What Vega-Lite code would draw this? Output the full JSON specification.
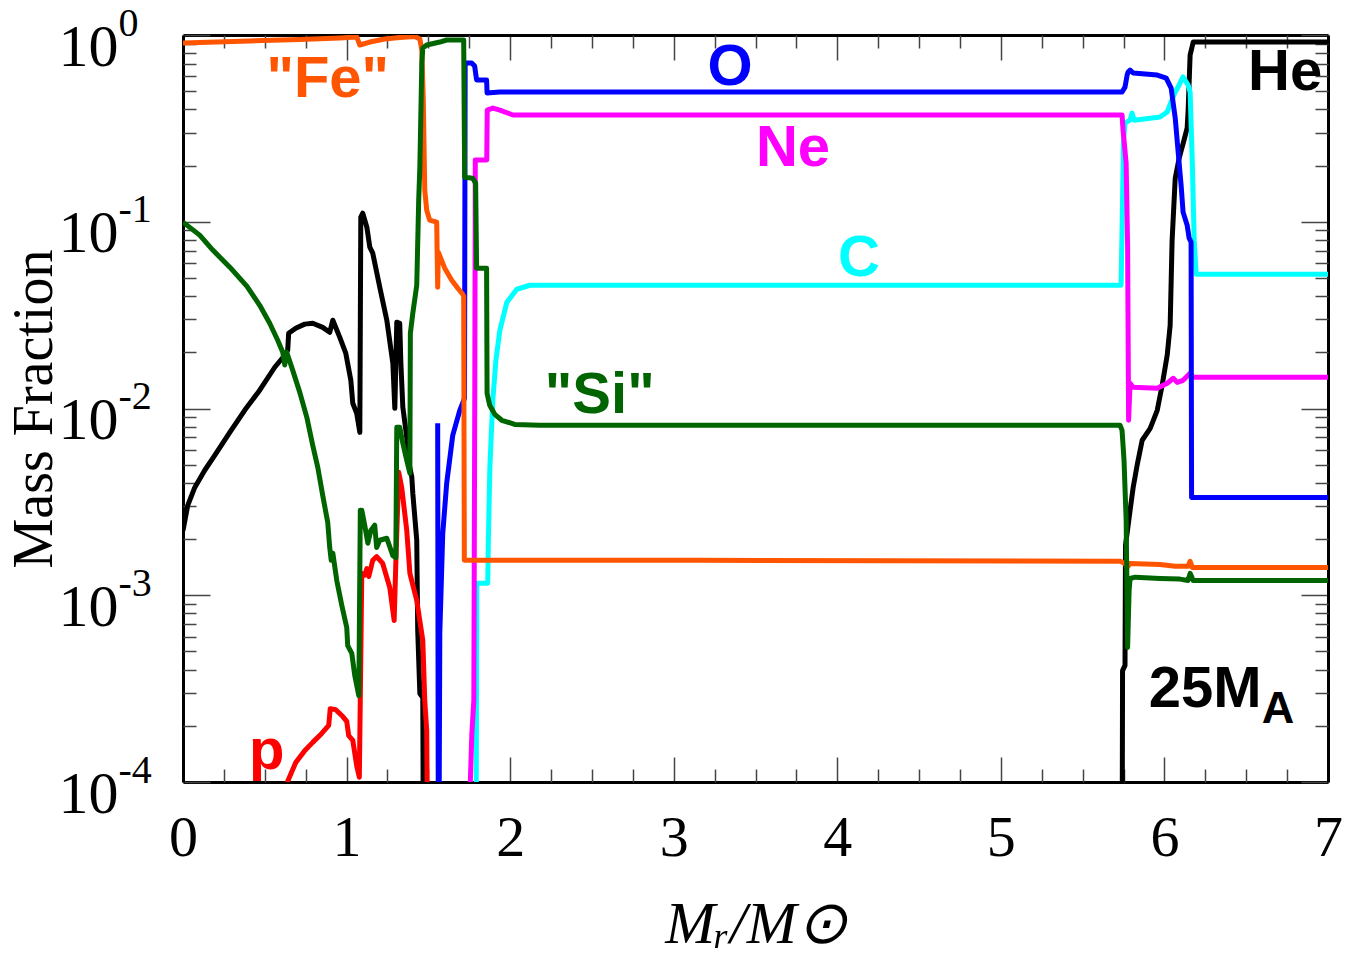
{
  "$schema": "https://vega.github.io/schema/vega-lite/v6.json",
  "width": 1145,
  "height": 747,
  "autosize": {"type": "none"},
  "padding": {"left": 183, "top": 35, "right": 20, "bottom": 183},
  "background": "white",
  "config": {
    "view": {"stroke": null},
    "axis": {
      "grid": false,
      "domain": false,
      "tickColor": "#444444",
      "tickWidth": 1.5,
      "labelFont": "Liberation Serif",
      "titleFont": "Liberation Serif",
      "labelColor": "black",
      "titleColor": "black",
      "titleFontWeight": "normal",
      "labelOverlap": false,
      "labelFlush": false
    }
  },
  "datasets": {
    "profiles": [
      {"s": "He", "m": 0, "f": 0.00222}, {"s": "He", "m": 0.029, "f": 0.00303}, {"s": "He", "m": 0.072, "f": 0.00378},
      {"s": "He", "m": 0.133, "f": 0.00467}, {"s": "He", "m": 0.194, "f": 0.00561}, {"s": "He", "m": 0.286, "f": 0.00745},
      {"s": "He", "m": 0.377, "f": 0.00978}, {"s": "He", "m": 0.469, "f": 0.01253}, {"s": "He", "m": 0.561, "f": 0.01663},
      {"s": "He", "m": 0.622, "f": 0.01928}, {"s": "He", "m": 0.64, "f": 0.0205}, {"s": "He", "m": 0.646, "f": 0.0253},
      {"s": "He", "m": 0.689, "f": 0.0269}, {"s": "He", "m": 0.744, "f": 0.0283}, {"s": "He", "m": 0.793, "f": 0.0286},
      {"s": "He", "m": 0.854, "f": 0.0272}, {"s": "He", "m": 0.897, "f": 0.0256}, {"s": "He", "m": 0.916, "f": 0.0297},
      {"s": "He", "m": 0.958, "f": 0.0241}, {"s": "He", "m": 0.995, "f": 0.0198}, {"s": "He", "m": 1.026, "f": 0.01416},
      {"s": "He", "m": 1.038, "f": 0.01067}, {"s": "He", "m": 1.062, "f": 0.00942}, {"s": "He", "m": 1.081, "f": 0.00745},
      {"s": "He", "m": 1.087, "f": 0.1059}, {"s": "He", "m": 1.099, "f": 0.1112}, {"s": "He", "m": 1.124, "f": 0.0935},
      {"s": "He", "m": 1.142, "f": 0.0731}, {"s": "He", "m": 1.16, "f": 0.0679}, {"s": "He", "m": 1.203, "f": 0.0446},
      {"s": "He", "m": 1.246, "f": 0.0297}, {"s": "He", "m": 1.283, "f": 0.01746}, {"s": "He", "m": 1.295, "f": 0.01002},
      {"s": "He", "m": 1.307, "f": 0.029}, {"s": "He", "m": 1.325, "f": 0.0286}, {"s": "He", "m": 1.332, "f": 0.01746},
      {"s": "He", "m": 1.344, "f": 0.01015}, {"s": "He", "m": 1.368, "f": 0.00701}, {"s": "He", "m": 1.374, "f": 0.00548},
      {"s": "He", "m": 1.399, "f": 0.00428}, {"s": "He", "m": 1.405, "f": 0.00351}, {"s": "He", "m": 1.429, "f": 0.00197},
      {"s": "He", "m": 1.435, "f": 0.000648}, {"s": "He", "m": 1.448, "f": 0.000298}, {"s": "He", "m": 1.466, "f": 0.000283},
      {"s": "He", "m": 1.472, "f": 0.00001}, {"s": "He", "m": 5.74, "f": 0.00001}, {"s": "He", "m": 5.744, "f": 0.000395},
      {"s": "He", "m": 5.759, "f": 0.000421}, {"s": "He", "m": 5.762, "f": 0.00185}, {"s": "He", "m": 5.79, "f": 0.00285},
      {"s": "He", "m": 5.809, "f": 0.00378}, {"s": "He", "m": 5.833, "f": 0.00496}, {"s": "He", "m": 5.864, "f": 0.00676},
      {"s": "He", "m": 5.913, "f": 0.00783}, {"s": "He", "m": 5.956, "f": 0.00978}, {"s": "He", "m": 5.986, "f": 0.0133},
      {"s": "He", "m": 6.017, "f": 0.0193}, {"s": "He", "m": 6.035, "f": 0.0279}, {"s": "He", "m": 6.047, "f": 0.0797},
      {"s": "He", "m": 6.066, "f": 0.171}, {"s": "He", "m": 6.09, "f": 0.219}, {"s": "He", "m": 6.12, "f": 0.274},
      {"s": "He", "m": 6.139, "f": 0.318}, {"s": "He", "m": 6.145, "f": 0.396}, {"s": "He", "m": 6.157, "f": 0.781},
      {"s": "He", "m": 6.176, "f": 0.917}, {"s": "He", "m": 7, "f": 0.917},

      {"s": "p", "m": 0.531, "f": 0.00003}, {"s": "p", "m": 0.634, "f": 0.000098}, {"s": "p", "m": 0.689, "f": 0.000127},
      {"s": "p", "m": 0.744, "f": 0.000147}, {"s": "p", "m": 0.793, "f": 0.000163}, {"s": "p", "m": 0.848, "f": 0.000182},
      {"s": "p", "m": 0.891, "f": 0.000201}, {"s": "p", "m": 0.9, "f": 0.000247}, {"s": "p", "m": 0.934, "f": 0.000244},
      {"s": "p", "m": 0.977, "f": 0.000224}, {"s": "p", "m": 1.001, "f": 0.000211}, {"s": "p", "m": 1.013, "f": 0.000177},
      {"s": "p", "m": 1.038, "f": 0.000167}, {"s": "p", "m": 1.062, "f": 0.000122}, {"s": "p", "m": 1.078, "f": 0.000106},
      {"s": "p", "m": 1.084, "f": 0.000283}, {"s": "p", "m": 1.093, "f": 0.00131}, {"s": "p", "m": 1.111, "f": 0.00128},
      {"s": "p", "m": 1.124, "f": 0.00139}, {"s": "p", "m": 1.136, "f": 0.00126}, {"s": "p", "m": 1.16, "f": 0.00154},
      {"s": "p", "m": 1.184, "f": 0.00161}, {"s": "p", "m": 1.221, "f": 0.00148}, {"s": "p", "m": 1.264, "f": 0.0011},
      {"s": "p", "m": 1.291, "f": 0.000733}, {"s": "p", "m": 1.301, "f": 0.00148}, {"s": "p", "m": 1.319, "f": 0.00455},
      {"s": "p", "m": 1.337, "f": 0.00378}, {"s": "p", "m": 1.368, "f": 0.00222}, {"s": "p", "m": 1.387, "f": 0.00131},
      {"s": "p", "m": 1.429, "f": 0.000938}, {"s": "p", "m": 1.466, "f": 0.000573}, {"s": "p", "m": 1.478, "f": 0.000273},
      {"s": "p", "m": 1.49, "f": 0.000189}, {"s": "p", "m": 1.5, "f": 0.00001},

      {"s": "C", "m": 1.79, "f": 0.00001}, {"s": "C", "m": 1.796, "f": 0.00116}, {"s": "C", "m": 1.863, "f": 0.00116},
      {"s": "C", "m": 1.867, "f": 0.00197}, {"s": "C", "m": 1.876, "f": 0.00484}, {"s": "C", "m": 1.894, "f": 0.01107},
      {"s": "C", "m": 1.913, "f": 0.01813}, {"s": "C", "m": 1.937, "f": 0.0262}, {"s": "C", "m": 1.98, "f": 0.0371},
      {"s": "C", "m": 2.041, "f": 0.0435}, {"s": "C", "m": 2.121, "f": 0.0457}, {"s": "C", "m": 5.735, "f": 0.0457},
      {"s": "C", "m": 5.744, "f": 0.1305}, {"s": "C", "m": 5.75, "f": 0.274}, {"s": "C", "m": 5.759, "f": 0.338},
      {"s": "C", "m": 5.79, "f": 0.35}, {"s": "C", "m": 5.802, "f": 0.382}, {"s": "C", "m": 5.815, "f": 0.35},
      {"s": "C", "m": 5.973, "f": 0.364}, {"s": "C", "m": 6.017, "f": 0.387}, {"s": "C", "m": 6.041, "f": 0.438},
      {"s": "C", "m": 6.066, "f": 0.495}, {"s": "C", "m": 6.09, "f": 0.54}, {"s": "C", "m": 6.114, "f": 0.596},
      {"s": "C", "m": 6.145, "f": 0.54}, {"s": "C", "m": 6.157, "f": 0.495}, {"s": "C", "m": 6.17, "f": 0.214},
      {"s": "C", "m": 6.182, "f": 0.0797}, {"s": "C", "m": 6.194, "f": 0.0524}, {"s": "C", "m": 7, "f": 0.0524},

      {"s": "Ne", "m": 1.747, "f": 0.00001}, {"s": "Ne", "m": 1.757, "f": 0.000102}, {"s": "Ne", "m": 1.766, "f": 0.000182},
      {"s": "Ne", "m": 1.778, "f": 0.000273}, {"s": "Ne", "m": 1.784, "f": 0.01365}, {"s": "Ne", "m": 1.787, "f": 0.214},
      {"s": "Ne", "m": 1.857, "f": 0.214}, {"s": "Ne", "m": 1.86, "f": 0.396}, {"s": "Ne", "m": 1.894, "f": 0.406},
      {"s": "Ne", "m": 1.937, "f": 0.396}, {"s": "Ne", "m": 2.017, "f": 0.373}, {"s": "Ne", "m": 2.121, "f": 0.373},
      {"s": "Ne", "m": 5.741, "f": 0.373}, {"s": "Ne", "m": 5.747, "f": 0.31}, {"s": "Ne", "m": 5.766, "f": 0.206},
      {"s": "Ne", "m": 5.775, "f": 0.0731}, {"s": "Ne", "m": 5.781, "f": 0.00865}, {"s": "Ne", "m": 5.79, "f": 0.01365},
      {"s": "Ne", "m": 5.809, "f": 0.013}, {"s": "Ne", "m": 5.956, "f": 0.01283}, {"s": "Ne", "m": 6.017, "f": 0.01365},
      {"s": "Ne", "m": 6.054, "f": 0.01452}, {"s": "Ne", "m": 6.078, "f": 0.0138}, {"s": "Ne", "m": 6.114, "f": 0.01416},
      {"s": "Ne", "m": 6.157, "f": 0.01544}, {"s": "Ne", "m": 6.176, "f": 0.01469}, {"s": "Ne", "m": 7, "f": 0.01469},

      {"s": "O", "m": 1.557, "f": 0.00833}, {"s": "O", "m": 1.562, "f": 0.00001}, {"s": "O", "m": 1.57, "f": 0.000624},
      {"s": "O", "m": 1.588, "f": 0.00214}, {"s": "O", "m": 1.612, "f": 0.00397}, {"s": "O", "m": 1.649, "f": 0.00718},
      {"s": "O", "m": 1.692, "f": 0.00978}, {"s": "O", "m": 1.721, "f": 0.01134}, {"s": "O", "m": 1.725, "f": 0.708},
      {"s": "O", "m": 1.765, "f": 0.708}, {"s": "O", "m": 1.783, "f": 0.682}, {"s": "O", "m": 1.795, "f": 0.574},
      {"s": "O", "m": 1.856, "f": 0.574}, {"s": "O", "m": 1.859, "f": 0.489}, {"s": "O", "m": 1.936, "f": 0.495},
      {"s": "O", "m": 5.741, "f": 0.495}, {"s": "O", "m": 5.759, "f": 0.526}, {"s": "O", "m": 5.772, "f": 0.61},
      {"s": "O", "m": 5.778, "f": 0.634}, {"s": "O", "m": 5.79, "f": 0.649}, {"s": "O", "m": 5.809, "f": 0.626},
      {"s": "O", "m": 5.956, "f": 0.61}, {"s": "O", "m": 6.011, "f": 0.588}, {"s": "O", "m": 6.041, "f": 0.52},
      {"s": "O", "m": 6.066, "f": 0.359}, {"s": "O", "m": 6.084, "f": 0.236}, {"s": "O", "m": 6.102, "f": 0.157},
      {"s": "O", "m": 6.114, "f": 0.1126}, {"s": "O", "m": 6.139, "f": 0.0959}, {"s": "O", "m": 6.151, "f": 0.0817},
      {"s": "O", "m": 6.163, "f": 0.0778}, {"s": "O", "m": 6.166, "f": 0.00334}, {"s": "O", "m": 7, "f": 0.00334},

      {"s": "Fe", "m": 0, "f": 0.906}, {"s": "Fe", "m": 0.408, "f": 0.929}, {"s": "Fe", "m": 0.714, "f": 0.946},
      {"s": "Fe", "m": 0.958, "f": 0.964}, {"s": "Fe", "m": 1.062, "f": 0.976}, {"s": "Fe", "m": 1.081, "f": 0.884},
      {"s": "Fe", "m": 1.142, "f": 0.917}, {"s": "Fe", "m": 1.233, "f": 0.952}, {"s": "Fe", "m": 1.325, "f": 0.97},
      {"s": "Fe", "m": 1.417, "f": 0.982}, {"s": "Fe", "m": 1.448, "f": 0.952}, {"s": "Fe", "m": 1.46, "f": 0.831},
      {"s": "Fe", "m": 1.469, "f": 0.449}, {"s": "Fe", "m": 1.478, "f": 0.148}, {"s": "Fe", "m": 1.49, "f": 0.1153},
      {"s": "Fe", "m": 1.508, "f": 0.102}, {"s": "Fe", "m": 1.551, "f": 0.0995}, {"s": "Fe", "m": 1.557, "f": 0.0446},
      {"s": "Fe", "m": 1.561, "f": 0.0687}, {"s": "Fe", "m": 1.6, "f": 0.0564}, {"s": "Fe", "m": 1.643, "f": 0.0486},
      {"s": "Fe", "m": 1.68, "f": 0.0441}, {"s": "Fe", "m": 1.71, "f": 0.0409}, {"s": "Fe", "m": 1.716, "f": 0.0399},
      {"s": "Fe", "m": 1.72, "f": 0.00154}, {"s": "Fe", "m": 3.16, "f": 0.00154}, {"s": "Fe", "m": 5.729, "f": 0.00152},
      {"s": "Fe", "m": 5.759, "f": 0.00148}, {"s": "Fe", "m": 5.772, "f": 0.00141}, {"s": "Fe", "m": 5.79, "f": 0.00148},
      {"s": "Fe", "m": 5.973, "f": 0.00146}, {"s": "Fe", "m": 6.066, "f": 0.00143}, {"s": "Fe", "m": 6.145, "f": 0.00143},
      {"s": "Fe", "m": 6.157, "f": 0.00152}, {"s": "Fe", "m": 6.17, "f": 0.00141}, {"s": "Fe", "m": 7, "f": 0.00141},

      {"s": "Si", "m": 0, "f": 0.0995}, {"s": "Si", "m": 0.102, "f": 0.0848}, {"s": "Si", "m": 0.182, "f": 0.0705},
      {"s": "Si", "m": 0.286, "f": 0.0571}, {"s": "Si", "m": 0.39, "f": 0.0452}, {"s": "Si", "m": 0.469, "f": 0.0357},
      {"s": "Si", "m": 0.53, "f": 0.0286}, {"s": "Si", "m": 0.579, "f": 0.0232}, {"s": "Si", "m": 0.61, "f": 0.02},
      {"s": "Si", "m": 0.622, "f": 0.0171}, {"s": "Si", "m": 0.634, "f": 0.02}, {"s": "Si", "m": 0.671, "f": 0.016},
      {"s": "Si", "m": 0.714, "f": 0.0122}, {"s": "Si", "m": 0.757, "f": 0.00897}, {"s": "Si", "m": 0.793, "f": 0.00635},
      {"s": "Si", "m": 0.824, "f": 0.00484}, {"s": "Si", "m": 0.854, "f": 0.00343}, {"s": "Si", "m": 0.885, "f": 0.00245},
      {"s": "Si", "m": 0.897, "f": 0.0018}, {"s": "Si", "m": 0.906, "f": 0.00154}, {"s": "Si", "m": 0.916, "f": 0.00168},
      {"s": "Si", "m": 0.94, "f": 0.0012}, {"s": "Si", "m": 0.971, "f": 0.000881}, {"s": "Si", "m": 1.001, "f": 0.000672},
      {"s": "Si", "m": 1.007, "f": 0.000538}, {"s": "Si", "m": 1.032, "f": 0.000488}, {"s": "Si", "m": 1.05, "f": 0.000372},
      {"s": "Si", "m": 1.075, "f": 0.00029}, {"s": "Si", "m": 1.084, "f": 0.00285}, {"s": "Si", "m": 1.093, "f": 0.00285},
      {"s": "Si", "m": 1.111, "f": 0.00237}, {"s": "Si", "m": 1.13, "f": 0.0019}, {"s": "Si", "m": 1.148, "f": 0.00222},
      {"s": "Si", "m": 1.172, "f": 0.00237}, {"s": "Si", "m": 1.184, "f": 0.0018}, {"s": "Si", "m": 1.203, "f": 0.00197},
      {"s": "Si", "m": 1.246, "f": 0.00202}, {"s": "Si", "m": 1.283, "f": 0.00163}, {"s": "Si", "m": 1.301, "f": 0.00159},
      {"s": "Si", "m": 1.307, "f": 0.00793}, {"s": "Si", "m": 1.325, "f": 0.00793}, {"s": "Si", "m": 1.344, "f": 0.00651},
      {"s": "Si", "m": 1.368, "f": 0.00527}, {"s": "Si", "m": 1.387, "f": 0.0045}, {"s": "Si", "m": 1.39, "f": 0.0253},
      {"s": "Si", "m": 1.405, "f": 0.0324}, {"s": "Si", "m": 1.429, "f": 0.0457}, {"s": "Si", "m": 1.441, "f": 0.1305},
      {"s": "Si", "m": 1.448, "f": 0.196}, {"s": "Si", "m": 1.46, "f": 0.708}, {"s": "Si", "m": 1.466, "f": 0.852},
      {"s": "Si", "m": 1.49, "f": 0.884}, {"s": "Si", "m": 1.57, "f": 0.917}, {"s": "Si", "m": 1.612, "f": 0.94},
      {"s": "Si", "m": 1.716, "f": 0.94}, {"s": "Si", "m": 1.722, "f": 0.173}, {"s": "Si", "m": 1.771, "f": 0.171},
      {"s": "Si", "m": 1.789, "f": 0.161}, {"s": "Si", "m": 1.795, "f": 0.0564}, {"s": "Si", "m": 1.856, "f": 0.0564},
      {"s": "Si", "m": 1.859, "f": 0.01206}, {"s": "Si", "m": 1.875, "f": 0.0104}, {"s": "Si", "m": 1.906, "f": 0.00931},
      {"s": "Si", "m": 1.949, "f": 0.00865}, {"s": "Si", "m": 2.028, "f": 0.00822}, {"s": "Si", "m": 2.181, "f": 0.00813},
      {"s": "Si", "m": 5.729, "f": 0.00813}, {"s": "Si", "m": 5.741, "f": 0.00764}, {"s": "Si", "m": 5.753, "f": 0.00527},
      {"s": "Si", "m": 5.766, "f": 0.00252}, {"s": "Si", "m": 5.775, "f": 0.000525}, {"s": "Si", "m": 5.784, "f": 0.00106},
      {"s": "Si", "m": 5.79, "f": 0.00123}, {"s": "Si", "m": 5.821, "f": 0.00125}, {"s": "Si", "m": 5.973, "f": 0.00123},
      {"s": "Si", "m": 6.095, "f": 0.00122}, {"s": "Si", "m": 6.144, "f": 0.0012}, {"s": "Si", "m": 6.157, "f": 0.00131},
      {"s": "Si", "m": 6.176, "f": 0.0012}, {"s": "Si", "m": 7, "f": 0.0012}
    ],
    "labels": [
      {"s": "Fe", "t": "\"Fe\"", "m": 0.885, "f": 0.465},
      {"s": "O", "t": "O", "m": 3.345, "f": 0.54},
      {"s": "Ne", "t": "Ne", "m": 3.729, "f": 0.1986},
      {"s": "C", "t": "C", "m": 4.133, "f": 0.0511},
      {"s": "Si", "t": "\"Si\"", "m": 2.548, "f": 0.00942},
      {"s": "He", "t": "He", "m": 6.738, "f": 0.507},
      {"s": "p", "t": "p", "m": 0.512, "f": 0.000118}
    ],
    "model": [{"t": "25M", "m": 6.249, "f": 0.000251}],
    "modelSub": [{"t": "A", "m": 6.695, "f": 0.000208}]
  },
  "resolve": {"axis": {"x": "independent", "y": "independent"}},
  "layer": [
    {
      "data": {"name": "profiles"},
      "transform": [{"filter": "datum.s != 'Si'"}],
      "mark": {"type": "line", "clip": true, "strokeWidth": 5, "strokeJoin": "round"},
      "encoding": {
        "x": {
          "field": "m", "type": "quantitative",
          "scale": {"domain": [0, 7], "nice": false, "zero": false},
          "axis": {
            "orient": "bottom", "values": [0, 1, 2, 3, 4, 5, 6, 7], "format": "d",
            "tickSize": -25, "labelPadding": 52, "labelFontSize": 58,
            "domain": true, "domainColor": "black", "domainWidth": 3,
            "title": "Mᵣ/M⊙", "titleFontSize": 60, "titleFontStyle": "italic", "titlePadding": 28
          }
        },
        "y": {
          "field": "f", "type": "quantitative",
          "scale": {"type": "log", "domain": [0.0001, 1], "nice": false},
          "axis": {
            "orient": "left", "values": [0.0001, 0.001, 0.01, 0.1, 1], "labelExpr": "'10'",
            "tickSize": -27, "labelPadding": 92, "labelFontSize": 60,
            "labelBaseline": "middle", "labelOffset": 12,
            "domain": true, "domainColor": "black", "domainWidth": 3,
            "title": "Mass Fraction", "titleFontSize": 56, "titlePadding": -5
          }
        },
        "color": {
          "field": "s", "type": "nominal",
          "scale": {
            "domain": ["He", "p", "C", "Ne", "O", "Fe", "Si"],
            "range": ["#000000", "#ff0000", "#00ffff", "#ff00ff", "#0000ff", "#ff5500", "#006400"]
          },
          "legend": null
        },
        "order": {"value": null}
      }
    },
    {
      "data": {"name": "profiles"},
      "transform": [{"filter": "datum.s == 'Si'"}],
      "mark": {"type": "line", "clip": true, "strokeWidth": 5, "strokeJoin": "round"},
      "encoding": {
        "x": {
          "field": "m", "type": "quantitative",
          "axis": {
            "orient": "bottom",
            "values": [0.25, 0.5, 0.75, 1.25, 1.5, 1.75, 2.25, 2.5, 2.75, 3.25, 3.5, 3.75, 4.25, 4.5, 4.75, 5.25, 5.5, 5.75, 6.25, 6.5, 6.75],
            "tickSize": -13, "labels": false, "domain": false, "title": null
          }
        },
        "y": {
          "field": "f", "type": "quantitative",
          "axis": {
            "orient": "left",
            "values": [0.0002, 0.0003, 0.0004, 0.0005, 0.0006, 0.0007, 0.0008, 0.0009, 0.002, 0.003, 0.004, 0.005, 0.006, 0.007, 0.008, 0.009, 0.02, 0.03, 0.04, 0.05, 0.06, 0.07, 0.08, 0.09, 0.2, 0.3, 0.4, 0.5, 0.6, 0.7, 0.8, 0.9],
            "tickSize": -13, "labels": false, "domain": false, "title": null
          }
        },
        "color": {"field": "s", "type": "nominal", "legend": null},
        "order": {"value": null}
      }
    },
    {
      "data": {"name": "labels"},
      "mark": {"type": "text", "font": "Liberation Sans", "fontWeight": "bold", "fontSize": 58, "align": "center", "baseline": "alphabetic"},
      "encoding": {
        "x": {
          "field": "m", "type": "quantitative",
          "axis": {
            "orient": "top", "values": [0, 1, 2, 3, 4, 5, 6, 7],
            "tickSize": -25, "labels": false,
            "domain": true, "domainColor": "black", "domainWidth": 3, "title": null
          }
        },
        "y": {
          "field": "f", "type": "quantitative",
          "axis": {
            "orient": "right", "values": [0.0001, 0.001, 0.01, 0.1, 1],
            "tickSize": -27, "labels": false,
            "domain": true, "domainColor": "black", "domainWidth": 3, "title": null
          }
        },
        "text": {"field": "t"},
        "color": {"field": "s", "type": "nominal", "legend": null}
      }
    },
    {
      "data": {"name": "model"},
      "mark": {"type": "text", "font": "Liberation Sans", "fontWeight": "bold", "fontSize": 58, "align": "center", "baseline": "alphabetic", "color": "black"},
      "encoding": {
        "x": {
          "field": "m", "type": "quantitative",
          "axis": {
            "orient": "top",
            "values": [0.25, 0.5, 0.75, 1.25, 1.5, 1.75, 2.25, 2.5, 2.75, 3.25, 3.5, 3.75, 4.25, 4.5, 4.75, 5.25, 5.5, 5.75, 6.25, 6.5, 6.75],
            "tickSize": -13, "labels": false, "domain": false, "title": null
          }
        },
        "y": {
          "field": "f", "type": "quantitative",
          "axis": {
            "orient": "right",
            "values": [0.0002, 0.0003, 0.0004, 0.0005, 0.0006, 0.0007, 0.0008, 0.0009, 0.002, 0.003, 0.004, 0.005, 0.006, 0.007, 0.008, 0.009, 0.02, 0.03, 0.04, 0.05, 0.06, 0.07, 0.08, 0.09, 0.2, 0.3, 0.4, 0.5, 0.6, 0.7, 0.8, 0.9],
            "tickSize": -13, "labels": false, "domain": false, "title": null
          }
        },
        "text": {"field": "t"}
      }
    },
    {
      "data": {"name": "modelSub"},
      "mark": {"type": "text", "font": "Liberation Sans", "fontWeight": "bold", "fontSize": 45, "align": "center", "baseline": "alphabetic", "color": "black"},
      "encoding": {
        "x": {"field": "m", "type": "quantitative", "axis": null},
        "y": {
          "field": "f", "type": "quantitative",
          "axis": {
            "orient": "left", "values": [0.0001, 0.001, 0.01, 0.1, 1],
            "labelExpr": "'' + round(log(datum.value) / LN10)",
            "ticks": false, "tickSize": 0, "domain": false,
            "labelAlign": "left", "labelBaseline": "alphabetic",
            "labelPadding": 65, "labelFontSize": 40, "labelOffset": 0,
            "title": null
          }
        },
        "text": {"field": "t"}
      }
    }
  ]
}
